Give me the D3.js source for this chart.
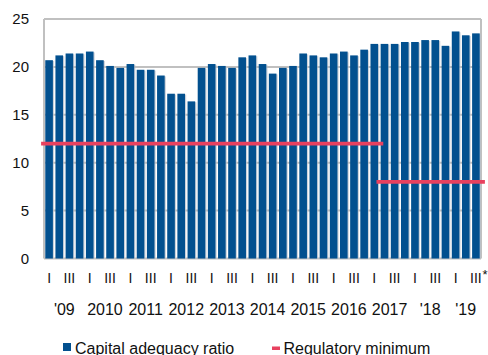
<!DOCTYPE html>
<html>
<head>
<meta charset="utf-8">
<script src="https://cdn.jsdelivr.net/npm/d3@7/dist/d3.min.js"></script>
<style>
  html, body { margin: 0; padding: 0; background: #fff; }
  svg { display: block; font-family: "Liberation Sans", Arial, sans-serif; }
</style>
</head>
<body>
<svg id="chart" width="488" height="355"></svg>
<script>
// Quarterly capital adequacy ratio, 2009 Q1 – 2019 Q3 (%)
const quarters = [];
for (let y = 2009; y <= 2019; y++) {
  for (let q = 1; q <= 4; q++) {
    if (y === 2019 && q === 4) break;
    quarters.push(y + "Q" + q);
  }
}
const capitalRatio = [
  20.7, 21.2, 21.4, 21.4, 21.6, 20.7, 20.1, 19.9, 20.3, 19.7, 19.7,
  19.1, 17.2, 17.2, 16.4, 19.9, 20.3, 20.1, 19.9, 21.0, 21.2, 20.3,
  19.3, 19.9, 20.1, 21.4, 21.2, 21.0, 21.4, 21.6, 21.2, 21.8, 22.4,
  22.4, 22.4, 22.6, 22.6, 22.8, 22.8, 22.2, 23.7, 23.3, 23.5
];
// Regulatory minimum per quarter: 12% until 2017 Q1, 8% afterwards
const regMinimum = quarters.map((q, i) => (i < 33 ? 12 : 8));

const yTicks = [0, 5, 10, 15, 20, 25];
const quarterLabels = { 1: "I", 3: "III" };
const years = [2009, 2010, 2011, 2012, 2013, 2014, 2015, 2016, 2017, 2018, 2019];
const yearLabels = ["'09", "2010", "2011", "2012", "2013", "2014", "2015", "2016", "2017", "'18", "'19"];
const legendLabels = ["Capital adequacy ratio", "Regulatory minimum"];

const barColor = "#02508f";
const lineColor = "#e8415f";
const gridColor = "#c0c0c0";

const svg = d3.select("#chart");
const plot = { left: 44, right: 481, top: 19, bottom: 258.5 };

const x = d3.scaleBand()
  .domain(quarters)
  .range([plot.left, plot.right])
  .paddingInner(0.25)
  .paddingOuter(0.125);

const y = d3.scaleLinear()
  .domain([0, 25])
  .range([plot.bottom, plot.top]);

// Gridlines
svg.append("g")
  .selectAll("line")
  .data(yTicks)
  .join("line")
  .attr("x1", plot.left)
  .attr("x2", plot.right)
  .attr("y1", d => y(d))
  .attr("y2", d => y(d))
  .attr("stroke", gridColor)
  .attr("stroke-width", 2);

// Frame sides
svg.append("g")
  .selectAll("line")
  .data([plot.left, plot.right])
  .join("line")
  .attr("x1", d => d)
  .attr("x2", d => d)
  .attr("y1", y(25))
  .attr("y2", y(0))
  .attr("stroke", gridColor)
  .attr("stroke-width", 2);

// Y axis labels
svg.append("g")
  .selectAll("text")
  .data(yTicks)
  .join("text")
  .attr("x", 29)
  .attr("y", d => y(d))
  .attr("dy", "0.36em")
  .attr("text-anchor", "end")
  .attr("font-size", 15)
  .attr("fill", "#111")
  .text(d => d);

// Bars with a faint drop shadow
const bars = svg.append("g");
bars.selectAll("rect.shadow")
  .data(capitalRatio)
  .join("rect")
  .attr("class", "shadow")
  .attr("x", (d, i) => x(quarters[i]) + 1.2)
  .attr("y", d => y(d) + 0.8)
  .attr("width", x.bandwidth())
  .attr("height", d => y(0) - y(d) - 0.8)
  .attr("fill", "#b8c0cc")
  .attr("opacity", 0.7);
bars.selectAll("rect.bar")
  .data(capitalRatio)
  .join("rect")
  .attr("class", "bar")
  .attr("x", (d, i) => x(quarters[i]))
  .attr("y", d => y(d))
  .attr("width", x.bandwidth())
  .attr("height", d => y(0) - y(d))
  .attr("fill", barColor);

// Regulatory minimum: one horizontal segment per constant run
const runs = [];
regMinimum.forEach((v, i) => {
  const last = runs[runs.length - 1];
  if (last && last.value === v) last.end = i;
  else runs.push({ value: v, start: i, end: i });
});
const step = x.step();
svg.append("g")
  .selectAll("line")
  .data(runs)
  .join("line")
  .attr("x1", d => x(quarters[d.start]) - step * 0.125 - 1)
  .attr("x2", d => x(quarters[d.end]) + x.bandwidth() + step * 0.125 + 2)
  .attr("y1", d => y(d.value))
  .attr("y2", d => y(d.value))
  .attr("stroke", lineColor)
  .attr("stroke-width", 3.8)
  .attr("stroke-linecap", "square");

// Quarter labels (I, III)
const qg = svg.append("g")
  .attr("font-size", 14)
  .attr("fill", "#111")
  .attr("text-anchor", "middle");
quarters.forEach((q, i) => {
  const qn = +q.slice(-1);
  if (quarterLabels[qn]) {
    qg.append("text")
      .attr("x", x(q) + x.bandwidth() / 2)
      .attr("y", 283)
      .text(quarterLabels[qn]);
  }
});
// Asterisk on the latest quarter (preliminary data)
const lastQ = quarters[quarters.length - 1];
svg.append("text")
  .attr("x", x(lastQ) + x.bandwidth() / 2 + 6.5)
  .attr("y", 279)
  .attr("font-size", 13)
  .attr("fill", "#111")
  .text("*");

// Year labels, centred under each year's quarters
svg.append("g")
  .attr("font-size", 16)
  .attr("fill", "#111")
  .attr("text-anchor", "middle")
  .selectAll("text")
  .data(years)
  .join("text")
  .attr("x", (yr) => {
    const qs = quarters.filter(q => q.startsWith(String(yr)));
    const x0 = x(qs[0]) - x.step() * x.paddingInner() / 2;
    const x1 = x(qs[qs.length - 1]) + x.bandwidth() + x.step() * x.paddingInner() / 2;
    return (x0 + x1) / 2;
  })
  .attr("y", 315)
  .text((yr, i) => yearLabels[i]);

// Legend
const legend = svg.append("g").attr("font-size", 16).attr("fill", "#111");
legend.append("rect")
  .attr("x", 63).attr("y", 343).attr("width", 8).attr("height", 8)
  .attr("fill", barColor);
legend.append("text").attr("x", 75).attr("y", 354).text(legendLabels[0]);
legend.append("rect")
  .attr("x", 272).attr("y", 346.5).attr("width", 8).attr("height", 3.5)
  .attr("fill", lineColor);
legend.append("text").attr("x", 283.5).attr("y", 354).text(legendLabels[1]);
</script>
</body>
</html>
